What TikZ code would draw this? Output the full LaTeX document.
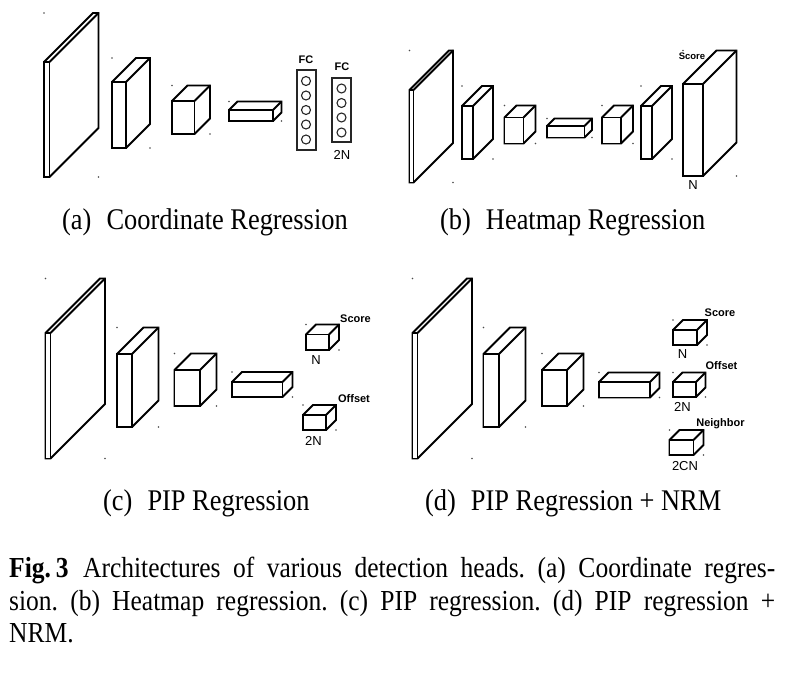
\documentclass[tikz,border=0pt]{standalone}
\usepackage{fontspec}
\setmainfont[FakeStretch=0.88]{Liberation Serif}
\newfontfamily\labelfont{Liberation Sans}

% front-top-left x, y, front width, front height, depth
\newcommand{\cuboid}[5]{%
  \filldraw[box] (#1,#2) -- ++(#5,-#5) -- ++(#3,0) -- ++(0,#4) -- ++(-#5,#5) -- ++(-#3,0) -- cycle;
  \draw[box] (#1,#2) rectangle ++(#3,#4);
  \draw[box] ({#1+#3},#2) -- ++(#5,-#5);
  \fill[mark dot] (#1,{#2-#5}) circle (0.8);
  \fill[mark dot] ({#1+#3+#5},{#2+#4}) circle (0.8);
}

\begin{document}
\frenchspacing
\begin{tikzpicture}[x=1pt, y=-1pt,
  box/.style={draw=black, fill=white, line width=1.8pt},
  mark dot/.style={black!70},
  fcbar/.style={draw=black!85, line width=1.4pt},
  neuron/.style={draw=black!85, line width=1.1pt},
  tag/.style={font=\labelfont\bfseries\fontsize{11}{12}\selectfont, inner sep=0pt},
  dim/.style={font=\labelfont\fontsize{13}{14}\selectfont, inner sep=0pt},
  subcap/.style={font=\fontsize{30}{34}\selectfont, anchor=base west, inner sep=0pt},
  capline/.style={font=\fontsize{29}{32}\selectfont, anchor=base west, inner sep=0pt}
]
\useasboundingbox (0,0) rectangle (791,677);

% (a) coordinate regression
\cuboid{44}{62}{5.5}{115}{49}
\cuboid{112}{82}{14}{66}{24}
\cuboid{172}{101}{22.5}{33}{15.5}
\cuboid{229}{110}{44}{11}{8.5}
\draw[fcbar] (297,70) rectangle (316,150);
\foreach \yy in {81,95.5,110,124.5,139.5}
  \draw[neuron] (306,\yy) circle (4.5);
\draw[fcbar] (332,78) rectangle (351,142);
\foreach \yy in {88.5,103,117.5,132.5}
  \draw[neuron] (341.5,\yy) circle (4.5);
\node[tag] (fcA) at (306,59.5) {FC};
\node[tag] (fcB) at (342,66.5) {FC};
\node[dim] (outA) at (342,155) {2N};

% (b) heatmap regression
\cuboid{409.5}{90}{4}{92.5}{39.5}
\cuboid{462}{106}{11}{53}{20}
\cuboid{504.5}{117.5}{19}{26}{12}
\cuboid{547}{126}{37.5}{11.5}{7.5}
\cuboid{602}{117.5}{19}{26}{12}
\cuboid{641}{106}{11}{53}{20}
\cuboid{683}{84}{20}{92}{33.5}
\node[tag, font=\labelfont\bfseries\fontsize{9.5}{10}\selectfont] (scoreB) at (692,56) {Score};
\node[dim] (outB) at (693,185) {N};

% (c) PIP regression
\cuboid{45.5}{333}{5}{125.5}{54.5}
\cuboid{117}{354}{15}{73}{26.5}
\cuboid{174.5}{370}{25.5}{36}{16.5}
\cuboid{232}{382}{50.5}{15}{10}
\cuboid{306}{334.5}{23}{15.5}{10}
\cuboid{303}{415}{23}{15}{10}
\node[tag] (scoreC) at (355.5,318.5) {Score};
\node[dim] (nC) at (316,360) {N};
\node[tag] (offsetC) at (354,399) {Offset};
\node[dim] (offC) at (313.5,440.5) {2N};

% (d) PIP regression + NRM
\cuboid{412.5}{333}{5}{125.5}{54.5}
\cuboid{483.5}{354}{15.5}{73}{26.5}
\cuboid{542}{370}{25}{36}{16.5}
\cuboid{599}{382}{51}{15.5}{9.5}
\cuboid{673}{330}{24}{15}{10}
\cuboid{673}{382}{23}{15}{9.5}
\cuboid{669.5}{440}{24}{15}{10}
\node[tag] (scoreD) at (720,312.5) {Score};
\node[dim] (nD) at (682.5,354.5) {N};
\node[tag] (offsetD) at (721.5,366) {Offset};
\node[dim] (offD) at (682.5,407) {2N};
\node[tag] (nbrD) at (720.5,424) {Neighbor};
\node[dim] (nbr) at (685,466) {2CN};

% sub-captions
\node[subcap] (capA) at (62,229) {(a)\enspace Coordinate Regression};
\node[subcap] (capB) at (440,229) {(b)\enspace Heatmap Regression};
\node[subcap] (capC) at (103,510) {(c)\enspace PIP Regression};
\node[subcap] (capD) at (425,510) {(d)\enspace PIP Regression + NRM};

% figure caption
\node[capline] (cap1) at (9,577.5) {\makebox[766pt][s]{\textbf{Fig.\,3}\enspace Architectures of various detection heads. (a) Coordinate regres-}};
\node[capline] (cap2) at (9,610) {\makebox[766pt][s]{sion. (b) Heatmap regression. (c) PIP regression. (d) PIP regression +}};
\node[capline] (cap3) at (9,642) {NRM.};
\end{tikzpicture}
\end{document}
